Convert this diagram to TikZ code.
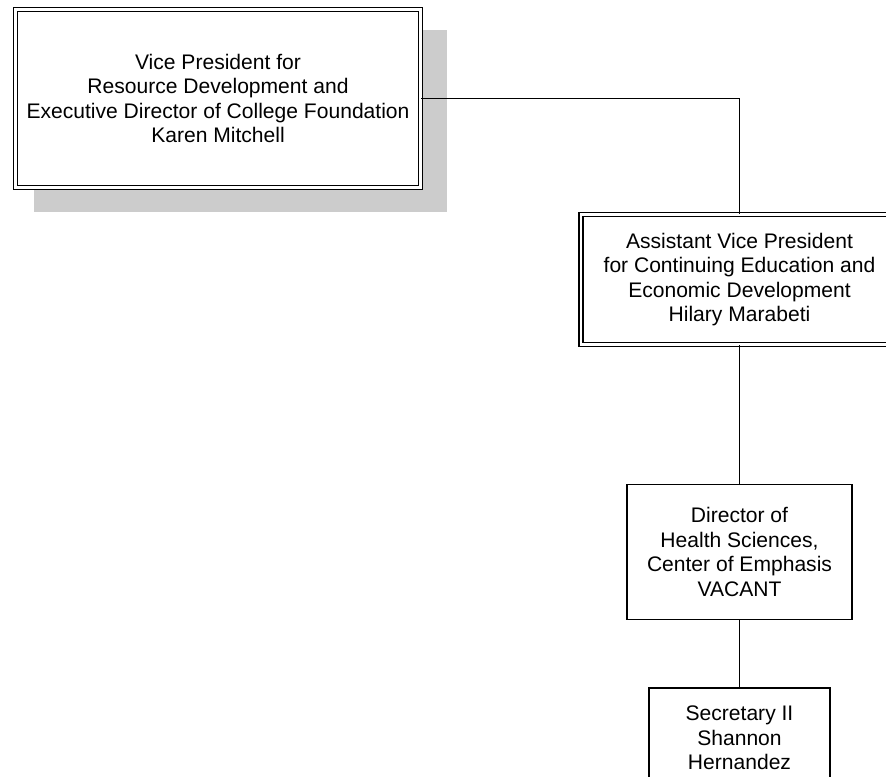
\documentclass[tikz,border=0pt]{standalone}
\usepackage{fontspec}
\setmainfont{Liberation Sans}
\usetikzlibrary{shadows}

\begin{document}
\begin{tikzpicture}[
    x=0.75pt, y=-0.75pt,
    font=\fontsize{15.8}{18.4}\selectfont,
    block/.style={draw, fill=white, line width=1.1pt, align=center, inner sep=0pt},
    dblock/.style={block, double, line width=0.9pt, double distance=2pt},
    line/.style={line width=1.1pt}
]
\clip (0,0) rectangle (886,776);

% Top box (with shadow)
\node[dblock, minimum width=303.75pt, minimum height=133.5pt,
      drop shadow={shadow xshift=16.5pt, shadow yshift=-16.5pt, shadow scale=1.02, fill=gray!40, opacity=1}]
      (vp) at (218,98.5)
{Vice President for\\Resource Development and\\Executive Director of College Foundation\\Karen Mitchell};

% Second level
\node[dblock, minimum width=237.75pt, minimum height=97.5pt] (avp) at (739.5,279.5)
{Assistant Vice President\\for Continuing Education and\\Economic Development\\Hilary Marabeti};

% Third level
\node[block, minimum width=168.75pt, minimum height=101.25pt] (dir) at (739.5,552)
{Director of\\Health Sciences,\\Center of Emphasis\\VACANT};

% Bottom
\node[block, minimum width=135.75pt, minimum height=75pt] (sec) at (739.5,738)
{Secretary II\\Shannon\\Hernandez};

% Connections
\draw[line] (vp.east) -| (avp.north);
\draw[line] (avp) -- (dir);
\draw[line] (dir) -- (sec);

\end{tikzpicture}
\end{document}
